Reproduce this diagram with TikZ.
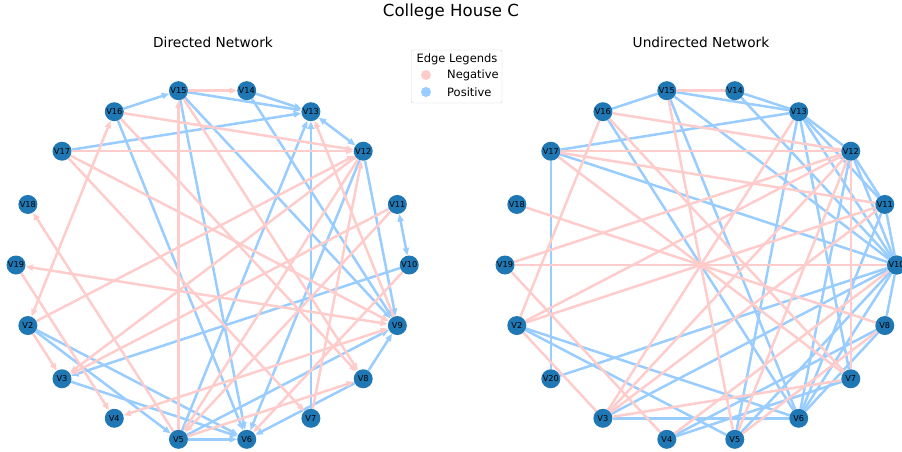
\documentclass[tikz,border=0pt]{standalone}
\usepackage{fontspec}
\setmainfont{DejaVu Sans}
\usetikzlibrary{arrows.meta}
\definecolor{negc}{RGB}{255,204,204}
\definecolor{posc}{RGB}{153,204,255}
\definecolor{nodec}{HTML}{1F77B4}
\pgfdeclarelayer{edgelayer}
\pgfsetlayers{edgelayer,main}
\tikzset{
  vnode/.style={circle,fill=nodec,minimum size=19pt,inner sep=0pt,font=\fontsize{8.2}{8.2}\selectfont,text=black},
  negedge/.style={draw=negc,line width=2.5pt},
  posedge/.style={draw=posc,line width=2.5pt},
  arr/.style={-{Triangle[length=7.5pt,width=6pt]}},
  barr/.style={{Triangle[length=7.5pt,width=6pt]}-{Triangle[length=7.5pt,width=6pt]}},
  titletext/.style={font=\fontsize{16.6}{18}\selectfont},
  subtext/.style={font=\fontsize{13.7}{15}\selectfont},
  legtext/.style={font=\fontsize{11.5}{13}\selectfont}
}
\begin{document}
\begin{tikzpicture}[x=1pt,y=-1pt]
\useasboundingbox (0,0) rectangle (902,452);
\node[titletext] (title) at (451,12) {College House C};
\node[subtext] (ltitle) at (213,42) {Directed Network};
\node[subtext] (rtitle) at (701,42) {Undirected Network};
% nodes
\foreach \n/\a in {10/0,11/20,12/40,13/60,14/80,15/100,16/120,17/140,18/160,19/180,2/200,3/220,4/240,5/260,6/280,7/300,8/320,9/340}
  \node[vnode] (L\n) at ({212.6+196.6*cos(\a)},{265-177*sin(\a)}) {V\n};
\foreach \n/\a in {9/0,10/0,11/20,12/40,13/60,14/80,15/100,16/120,17/140,18/160,19/180,2/200,20/220,3/240,4/260,5/280,6/300,7/320,8/340}
  \node[vnode] (R\n) at ({700.8+195.8*cos(\a)},{265-177*sin(\a)}) {V\n};
\begin{pgfonlayer}{edgelayer}
% directed, positive
\foreach \a/\b in {16/15,15/13,14/13,17/13,14/9,12/9,15/9,15/6,16/6,7/13,5/13,12/6,10/3,2/5,2/6,3/6,5/6,8/9,8/6,5/9}
  \draw[posedge,arr] (L\a) -- (L\b);
\foreach \a/\b in {13/12,11/10}
  \draw[posedge,barr] (L\a) -- (L\b);
% directed, negative
\foreach \a/\b in {15/14,16/12,17/12,5/15,7/12,2/12,2/3,5/18,17/7,16/8,19/4,12/3,11/3,11/5,12/5,5/8,10/6,15/8,9/13,17/9}
  \draw[negedge,arr] (L\a) -- (L\b);
\foreach \a/\b in {2/16,9/19,9/4}
  \draw[negedge,barr] (L\a) -- (L\b);
% undirected, positive
\foreach \a/\b in {16/15,15/13,14/13,17/13,13/12,15/6,16/6,17/9,17/20,14/9,13/11,13/9,13/5,13/7,12/11,12/9,12/6,11/6,11/9,20/9,2/6,2/5,3/6,3/9,4/7,8/9,8/6,8/4,5/9,6/9,15/9}
  \draw[posedge] (R\a) -- (R\b);
% undirected, negative
\foreach \a/\b in {15/14,16/12,17/12,15/5,16/7,16/2,17/11,17/7,18/8,19/9,2/11,12/2,12/3,12/5,12/7,11/3,19/4,2/3,3/7,4/9,8/5,13/3,19/12}
  \draw[negedge] (R\a) -- (R\b);
\end{pgfonlayer}
% legend
\draw[black!18,fill=white,rounded corners=2pt] (411.5,50) rectangle (502,103);
\node[legtext] (legtitle) at (457,59.5) {Edge Legends};
\node[circle,fill=negc,minimum size=10pt,inner sep=0pt] (negdot) at (426,75) {};
\node[circle,fill=posc,minimum size=10pt,inner sep=0pt] (posdot) at (426,92) {};
\node[legtext,anchor=west,inner sep=0pt] (negtext) at (447,75) {Negative};
\node[legtext,anchor=west,inner sep=0pt] (postext) at (447,92) {Positive};
\end{tikzpicture}
\end{document}
